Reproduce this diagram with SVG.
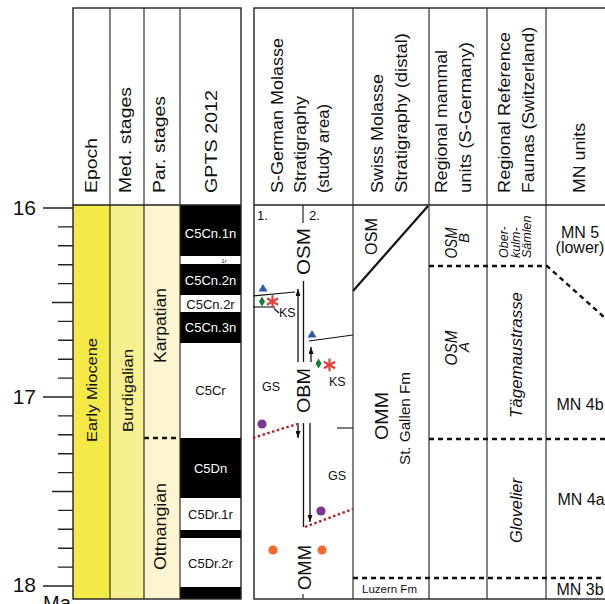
<svg xmlns="http://www.w3.org/2000/svg" width="605" height="604" viewBox="0 0 605 604">
<defs>
<style>
text{font-family:"Liberation Sans",Arial,sans-serif;fill:#111}
.hd{font-size:16px}
.bd{fill:none;stroke:#222;stroke-width:1.4}
.dv{stroke:#333;stroke-width:1.2;fill:none}
.dash{stroke:#111;stroke-width:2.4;stroke-dasharray:5 4;fill:none}
.red{stroke:#b0232b;stroke-width:2.4;stroke-dasharray:2.5 2.5;fill:none}
.ar{stroke:#111;stroke-width:1.3;fill:none}
.th{stroke:#111;stroke-width:1.1;fill:none}
.it{font-style:italic}
.gp{font-size:13px;text-anchor:middle}
.wt{fill:#fff}
.mn{font-size:16px;text-anchor:middle}
.sm{font-size:12.5px}
.tick{stroke:#222;stroke-width:1.4;fill:none}
</style>
<marker id="ah" viewBox="0 0 7 5" refX="7" refY="2.5" markerWidth="7" markerHeight="5" markerUnits="userSpaceOnUse" orient="auto">
<path d="M0,0 L7,2.5 L0,5 Z" fill="#111"/>
</marker>
<path id="tri" d="M-4.5,3.5 L0,-4 L4.5,3.5 Z" fill="#2a5caa"/>
<path id="dia" d="M0,-5 L3,0 L0,5 L-3,0 Z" fill="#1b7a3c"/>
<g id="ast" stroke="#e0413a" stroke-width="2.2" stroke-linecap="round">
<line x1="0" y1="-5.5" x2="0" y2="5.5"/>
<line x1="-4.8" y1="-2.8" x2="4.8" y2="2.8"/>
<line x1="-4.8" y1="2.8" x2="4.8" y2="-2.8"/>
</g>
<circle id="pdot" r="4.6" fill="#7d3794"/>
<circle id="odot" r="4.6" fill="#f26a30"/>
</defs>
<rect width="605" height="604" fill="#fff"/>

<g id="scale">
<path class="tick" d="M43,208H73M58,226.9H73M58,245.8H73M58,264.7H73M58,283.6H73M52,302.5H73M58,321.4H73M58,340.3H73M58,359.2H73M58,378.1H73M43,397H73M58,415.9H73M58,434.8H73M58,453.7H73M58,472.6H73M52,491.5H73M58,510.4H73M58,529.3H73M58,548.2H73M58,567.1H73M43,586H73"/>
<text x="36" y="215" font-size="21" text-anchor="end">16</text>
<text x="36" y="404" font-size="21" text-anchor="end">17</text>
<text x="36" y="592" font-size="21" text-anchor="end">18</text>
<text x="43" y="610" font-size="20">Ma</text>
</g>

<g id="col-epoch">
<rect x="73" y="205" width="37" height="394" fill="#f4ea47"/>
<text class="hd" transform="translate(97,193) rotate(-90)" textLength="55" lengthAdjust="spacingAndGlyphs">Epoch</text>
<text font-size="15.5" transform="translate(97,442) rotate(-90)" textLength="104" lengthAdjust="spacingAndGlyphs">Early Miocene</text>
</g>

<g id="col-med">
<rect x="110" y="205" width="34" height="394" fill="#f6f08f"/>
<text class="hd" transform="translate(131,193) rotate(-90)" textLength="106" lengthAdjust="spacingAndGlyphs">Med. stages</text>
<text font-size="15.5" transform="translate(133,432) rotate(-90)" textLength="83" lengthAdjust="spacingAndGlyphs">Burdigalian</text>
</g>

<g id="col-par">
<rect x="144" y="205" width="36" height="394" fill="#fcf5cf"/>
<path class="dash" d="M144,438H180"/>
<text class="hd" transform="translate(165,193) rotate(-90)" textLength="97" lengthAdjust="spacingAndGlyphs">Par. stages</text>
<text font-size="16.5" transform="translate(166,363) rotate(-90)" textLength="75" lengthAdjust="spacingAndGlyphs">Karpatian</text>
<text font-size="16.5" transform="translate(166,570) rotate(-90)" textLength="87" lengthAdjust="spacingAndGlyphs">Ottnangian</text>
</g>

<g id="col-gpts">
<rect x="180" y="205" width="61" height="394" fill="#fff"/>
<rect x="180" y="205" width="61" height="51" fill="#000"/>
<rect x="180" y="264" width="61" height="31" fill="#000"/>
<rect x="180" y="312" width="61" height="31" fill="#000"/>
<rect x="180" y="438" width="61" height="60" fill="#000"/>
<rect x="180" y="530" width="61" height="8" fill="#000"/>
<rect x="180" y="587" width="61" height="12" fill="#000"/>
<text class="hd" transform="translate(217,193) rotate(-90)" textLength="103" lengthAdjust="spacingAndGlyphs">GPTS 2012</text>
<text class="gp wt" x="210.5" y="237.5">C5Cn.1n</text>
<text x="224" y="262.5" font-size="6" text-anchor="middle">1r</text>
<text class="gp wt" x="210.5" y="284.5">C5Cn.2n</text>
<text class="gp" x="210.5" y="308.5">C5Cn.2r</text>
<text class="gp wt" x="210.5" y="331.5">C5Cn.3n</text>
<text class="gp" x="210.5" y="394.5">C5Cr</text>
<text class="gp wt" x="210.5" y="472.5">C5Dn</text>
<text class="gp" x="210.5" y="518.5">C5Dr.1r</text>
<text class="gp" x="210.5" y="567.5">C5Dr.2r</text>
</g>

<g id="frame-left">
<path class="dv" d="M110,8V599M144,8V599M180,8V599"/>
<path class="bd" d="M73,205H241"/>
<rect class="bd" x="73" y="8" width="168" height="591"/>
</g>

<g id="col-sgerman">
<text class="hd" transform="translate(283,193) rotate(-90)" textLength="155" lengthAdjust="spacingAndGlyphs">S-German Molasse</text>
<text class="hd" transform="translate(306,193) rotate(-90)" textLength="97" lengthAdjust="spacingAndGlyphs">Stratigraphy</text>
<text class="hd" transform="translate(329,193) rotate(-90)" textLength="89" lengthAdjust="spacingAndGlyphs">(study area)</text>
<path class="th" d="M303,205V223M303,594V599"/>
<text x="257" y="220" font-size="13">1.</text>
<text x="309" y="220" font-size="13">2.</text>
<text font-size="17.5" transform="translate(310,275) rotate(-90)" textLength="47" lengthAdjust="spacingAndGlyphs">OSM</text>
<text font-size="17.5" transform="translate(310,413) rotate(-90)" textLength="45" lengthAdjust="spacingAndGlyphs">OBM</text>
<text font-size="17.5" transform="translate(311,590) rotate(-90)" textLength="45" lengthAdjust="spacingAndGlyphs">OMM</text>
<text class="sm" x="271" y="390.5" text-anchor="middle">GS</text>
<text class="sm" x="279" y="317">KS</text>
<text class="sm" x="329" y="385.5">KS</text>
<text class="sm" x="337" y="479.5" text-anchor="middle">GS</text>
</g>

<g id="col-swiss">
<text class="hd" transform="translate(383,193) rotate(-90)" textLength="119" lengthAdjust="spacingAndGlyphs">Swiss Molasse</text>
<text class="hd" transform="translate(407,193) rotate(-90)" textLength="160" lengthAdjust="spacingAndGlyphs">Stratigraphy (distal)</text>
<text font-size="16" transform="translate(377,255) rotate(-90)" textLength="37" lengthAdjust="spacingAndGlyphs">OSM</text>
<text font-size="18" transform="translate(388,440) rotate(-90)" textLength="48" lengthAdjust="spacingAndGlyphs">OMM</text>
<text font-size="14.5" transform="translate(410,465) rotate(-90)" textLength="93" lengthAdjust="spacingAndGlyphs">St. Gallen Fm</text>
<text x="362" y="593" font-size="11.5">Luzern Fm</text>
<line x1="353" y1="291" x2="428" y2="206" stroke="#111" stroke-width="2.2"/>
</g>

<g id="col-mammal">
<text class="hd" transform="translate(447,193) rotate(-90)" textLength="143" lengthAdjust="spacingAndGlyphs">Regional mammal</text>
<text class="hd" transform="translate(471,193) rotate(-90)" textLength="151" lengthAdjust="spacingAndGlyphs">units (S-Germany)</text>
<text class="it" font-size="17" text-anchor="middle" transform="translate(457,243) rotate(-90)" textLength="31" lengthAdjust="spacingAndGlyphs">OSM</text>
<text class="it" font-size="15" text-anchor="middle" transform="translate(469,238) rotate(-90)">B</text>
<text class="it" font-size="17" text-anchor="middle" transform="translate(457,348) rotate(-90)" textLength="35" lengthAdjust="spacingAndGlyphs">OSM</text>
<text class="it" font-size="15" text-anchor="middle" transform="translate(469,347) rotate(-90)">A</text>
</g>

<g id="col-reference">
<text class="hd" transform="translate(510,193) rotate(-90)" textLength="161" lengthAdjust="spacingAndGlyphs">Regional Reference</text>
<text class="hd" transform="translate(534,193) rotate(-90)" textLength="166" lengthAdjust="spacingAndGlyphs">Faunas (Switzerland)</text>
<text class="it" font-size="12.5" transform="translate(508,258) rotate(-90)">Ober-</text>
<text class="it" font-size="12.5" transform="translate(519.5,258) rotate(-90)">kulm-</text>
<text class="it" font-size="12.5" transform="translate(531,258) rotate(-90)">Sämlen</text>
<text class="it" font-size="16" transform="translate(522,418) rotate(-90)" textLength="126" lengthAdjust="spacingAndGlyphs">Tägemaustrasse</text>
<text class="it" font-size="16" transform="translate(522,543) rotate(-90)" textLength="65" lengthAdjust="spacingAndGlyphs">Glovelier</text>
</g>

<g id="col-mn">
<text class="hd" transform="translate(585,193) rotate(-90)" textLength="70" lengthAdjust="spacingAndGlyphs">MN units</text>
<text class="mn" x="580" y="238">MN 5</text>
<text class="mn" x="580" y="253">(lower)</text>
<text class="mn" x="580" y="410">MN 4b</text>
<text class="mn" x="581" y="505">MN 4a</text>
<text class="mn" x="580" y="595" font-size="14.5">MN 3b</text>
</g>

<g id="frame-right">
<path class="dv" d="M353,8V599M429,8V599M487,8V599M546,8V599"/>
<path class="bd" d="M254,205H610"/>
<rect class="bd" x="254" y="8" width="360" height="591"/>
</g>

<g id="boundaries">
<path class="dash" d="M429,266H547L605,318"/>
<path class="dash" d="M429,439H605"/>
<path class="dash" d="M353,578H605"/>
</g>

<g id="connectors">
<line class="th" x1="253" y1="296" x2="295" y2="292"/>
<line class="th" x1="253" y1="307" x2="275" y2="307"/>
<line class="th" x1="274" y1="308.5" x2="279" y2="313"/>
<line class="th" x1="309" y1="341" x2="353" y2="335"/>
<line class="th" x1="337" y1="428" x2="353" y2="428"/>
<line class="ar" x1="298" y1="362" x2="298" y2="289" marker-end="url(#ah)"/>
<line class="ar" x1="303.5" y1="281" x2="303.5" y2="362"/>
<line class="ar" x1="311" y1="362" x2="311" y2="347" marker-end="url(#ah)"/>
<line class="ar" x1="298" y1="423" x2="298" y2="438" marker-end="url(#ah)"/>
<line class="ar" x1="303.5" y1="423" x2="303.5" y2="527"/>
<line class="ar" x1="310" y1="423" x2="310" y2="522" marker-end="url(#ah)"/>
<path class="red" d="M253,438L297,424"/>
<path class="red" d="M305,527L353,509"/>
</g>

<g id="symbols">
<use href="#tri" x="263" y="288"/>
<use href="#tri" x="312" y="334"/>
<use href="#dia" x="262" y="301.5"/>
<use href="#dia" x="318.5" y="363.5"/>
<use href="#ast" x="272.5" y="301.5"/>
<use href="#ast" x="329.5" y="365"/>
<use href="#pdot" x="262" y="424"/>
<use href="#pdot" x="321" y="511"/>
<use href="#odot" x="273" y="550"/>
<use href="#odot" x="322" y="550"/>
</g>
</svg>
